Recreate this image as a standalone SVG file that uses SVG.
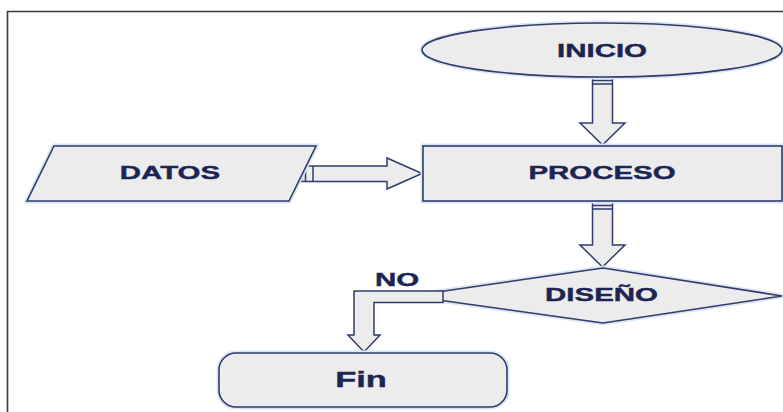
<svg xmlns="http://www.w3.org/2000/svg" width="783" height="412" viewBox="0 0 783 412">
  <style>
    .shape { fill: #ececec; stroke: #2f3c6c; stroke-width: 1.6; }
    .halo { fill: none; stroke: #d9e6f4; stroke-width: 5; }
    .arrow { fill: #ececec; stroke: #2f3c6c; stroke-width: 1.5; stroke-linejoin: miter; }
    .tick { stroke: #2f3c6c; stroke-width: 1.5; }
    .lbl { font-family: "Liberation Sans", Arial, sans-serif; font-weight: bold; font-size: 19px; fill: #1b2453; stroke: #1b2453; stroke-width: 0.4; text-anchor: middle; }
  </style>
  <rect x="0" y="0" width="783" height="412" fill="#ffffff"/>
  <path d="M7.5,412 V11.5 H783" fill="none" stroke="#3a3a3a" stroke-width="1.6"/>

  <g id="connectors">
    <g id="c-inicio-proceso">
      <path class="arrow" d="M592.5,76 V123 H580 L602.5,145 L625,123 H612.5 V76 Z"/>
      <line class="tick" x1="592.5" y1="80.5" x2="612.5" y2="80.5"/>
      <line class="tick" x1="592.5" y1="84" x2="612.5" y2="84"/>
    </g>
    <g id="c-proceso-diseno">
      <path class="arrow" d="M592.5,201 V245 H580 L602.5,267 L625,245 H612.5 V201 Z"/>
      <line class="tick" x1="592.5" y1="205.5" x2="612.5" y2="205.5"/>
      <line class="tick" x1="592.5" y1="209" x2="612.5" y2="209"/>
    </g>
    <g id="c-datos-proceso">
      <path class="arrow" d="M300,166 H387 V158 L422,173.5 L387,189 V181.5 H300 Z"/>
      <line class="tick" x1="301.5" y1="166" x2="301.5" y2="181.5" stroke-width="3"/>
      <line class="tick" x1="305.5" y1="166" x2="305.5" y2="181.5"/>
      <line class="tick" x1="313" y1="166" x2="313" y2="181.5"/>
    </g>
  </g>

  <g id="n-inicio">
    <ellipse class="halo" cx="602" cy="50" rx="180" ry="27"/>
    <ellipse class="shape" cx="602" cy="50" rx="180" ry="27"/>
    <text class="lbl" transform="translate(602,57) scale(1.55,1)">INICIO</text>
  </g>

  <g id="n-datos">
    <polygon class="halo" points="54,146 316,146 289,201 27,201"/>
    <polygon class="shape" points="54,146 316,146 289,201 27,201"/>
    <text class="lbl" transform="translate(170,179) scale(1.55,1)">DATOS</text>
  </g>

  <g id="n-proceso">
    <rect class="halo" x="423" y="146" width="359" height="55"/>
    <rect class="shape" x="423" y="146" width="359" height="55"/>
    <text class="lbl" transform="translate(602,179) scale(1.55,1)">PROCESO</text>
  </g>

  <g id="n-diseno">
    <polygon class="halo" points="603,268 782,296 603,323 410,296"/>
    <polygon class="shape" points="603,268 782,296 603,323 410,296"/>
    <text class="lbl" transform="translate(601.5,301) scale(1.55,1)">DISEÑO</text>
  </g>

  <g id="c-diseno-fin">
    <path class="arrow" d="M443,291 H354 V335 H348 L364,352 L380,335 H374 V302.5 H443 Z"/>
    <text class="lbl" transform="translate(397,286) scale(1.55,1)">NO</text>
  </g>

  <g id="n-fin">
    <rect class="halo" x="219" y="353" width="288" height="54" rx="17" ry="17"/>
    <rect class="shape" x="219" y="353" width="288" height="54" rx="17" ry="17"/>
    <text class="lbl" style="font-size:23px" transform="translate(361,387) scale(1.5,1)">Fin</text>
  </g>
</svg>
